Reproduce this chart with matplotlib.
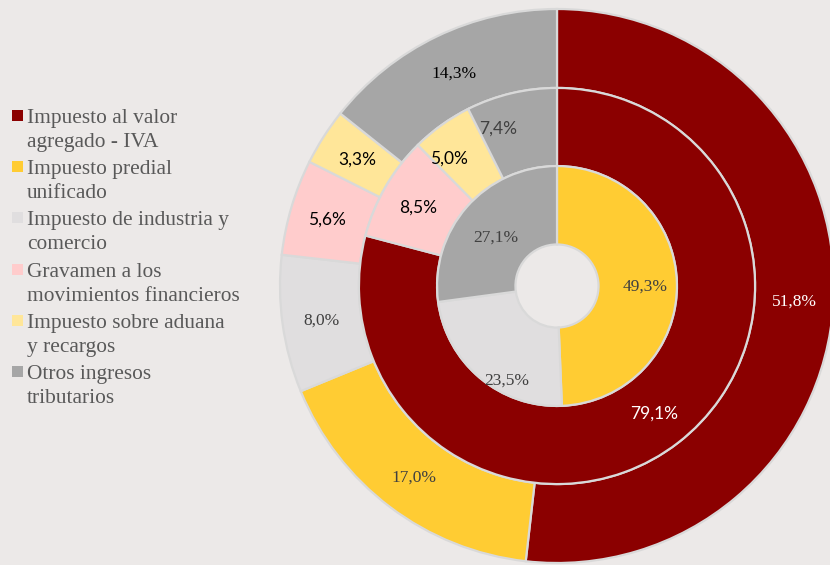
"""
Anillos concéntricos: composición de ingresos tributarios.
"""

import numpy as np
import matplotlib.pyplot as plt
from matplotlib.patches import Rectangle

plt.rcParams['font.family'] = ['Liberation Serif', 'DejaVu Serif']

# ── Datos ─────────────────────────────────────────────────────────────────────
CATEGORIAS = ['Impuesto al valor\nagregado - IVA',
              'Impuesto predial\nunificado',
              'Impuesto de industria y\ncomercio',
              'Gravamen a los\nmovimientos financieros',
              'Impuesto sobre aduana\ny recargos',
              'Otros ingresos\ntributarios']
anillo_ext = [51.8, 17.0, 8.0, 5.6, 3.3, 14.3]
anillo_med = [79.1, 0.0, 0.0, 8.5, 5.0, 7.4]
anillo_int = [0.0, 49.3, 23.5, 0.0, 0.0, 27.1]

# ── Estilo ────────────────────────────────────────────────────────────────────
FONDO   = '#ECE9E8'
BORDE   = '#D9D9D9'
COLORES = ['#8B0000', '#FFCC33', '#E0DEDF', '#FFCCCC', '#FFE699', '#A6A6A6']
GRIS_TX = '#404040'

# color, fuente y ajuste (pt) de etiqueta por anillo y categoría
SANS  = ['Lato', 'DejaVu Sans']
SERIF = ['Liberation Serif', 'DejaVu Serif']
est_ext = [('white', SERIF, 0, 0), (GRIS_TX, SERIF, 0, 0), (GRIS_TX, SERIF, 0, 0),
           ('black', SANS, -2, 0), ('black', SANS, 0, 0), ('black', SERIF, 0, 0)]
est_med = [('white', SANS, 0, 0), None, None,
           ('black', SANS, -1, 0), ('black', SANS, -11, 0), (GRIS_TX, SANS, -16, 3)]
est_int = [None, (GRIS_TX, SERIF, 5, 0), (GRIS_TX, SERIF, 1, -22),
           None, None, (GRIS_TX, SERIF, 0, -2)]

fig = plt.figure(figsize=(8.3, 5.65), dpi=100, facecolor=FONDO)
ax = fig.add_axes([280/830, 2/565, 554/830, 554/565])
ax.set_facecolor(FONDO)


def anillo(valores, r_ext, r_int, estilos):
    idx = [i for i, v in enumerate(valores) if v > 0]
    vals = [valores[i] for i in idx]
    wedges, _ = ax.pie(vals, radius=r_ext, colors=[COLORES[i] for i in idx],
                       startangle=90, counterclock=False,
                       wedgeprops=dict(width=r_ext - r_int, edgecolor=BORDE,
                                       linewidth=1.6))
    r_txt = (r_ext + r_int) / 2
    for w, i in zip(wedges, idx):
        ang = np.deg2rad((w.theta1 + w.theta2) / 2)
        color, fam, dx, dy = estilos[i]
        ax.annotate(f'{valores[i]:.1f}%'.replace('.', ','),
                    (r_txt * np.cos(ang), r_txt * np.sin(ang)),
                    xytext=(dx, dy), textcoords='offset points',
                    ha='center', va='center_baseline', fontsize=12.5,
                    color=color, family=fam)


anillo(anillo_ext, 1.0, 0.715, est_ext)
anillo(anillo_med, 0.715, 0.433, est_med)
anillo(anillo_int, 0.433, 0.15, est_int)

ax.set_xlim(-1, 1)
ax.set_ylim(-1, 1)
ax.set_aspect('equal')
ax.axis('off')

# ── Leyenda manual ────────────────────────────────────────────────────────────
W, H = 830, 565
for k, (cat, col) in enumerate(zip(CATEGORIAS, COLORES)):
    y0 = 110 + 51.2 * k
    fig.patches.append(Rectangle((12 / W, 1 - (y0 + 11) / H), 11 / W, 11 / H,
                                 transform=fig.transFigure, facecolor=col,
                                 edgecolor='none'))
    fig.text(27 / W, 1 - (y0 - 1) / H, cat, ha='left', va='top',
             fontsize=15.4, color='#595959', linespacing=1.36)

fig.savefig('out.png', dpi=100, facecolor=FONDO)
